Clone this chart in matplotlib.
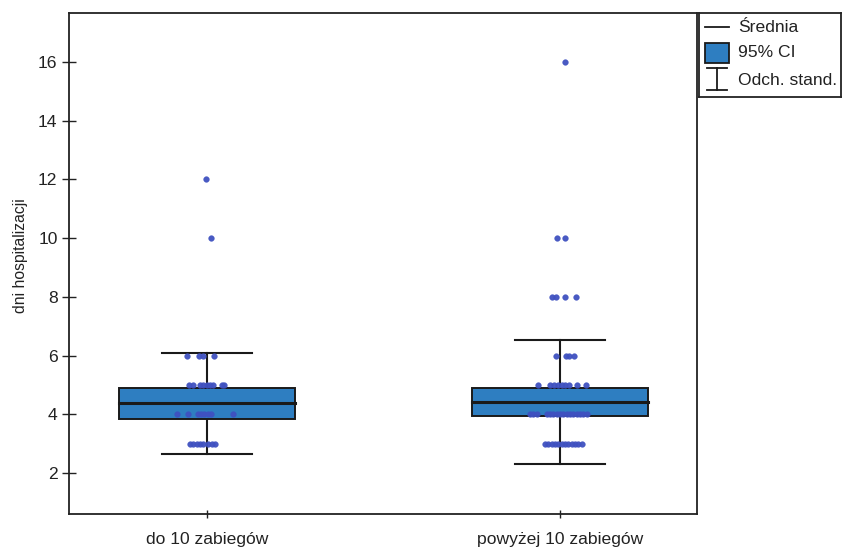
import matplotlib
matplotlib.use("Agg")
import matplotlib.pyplot as plt
from matplotlib.patches import Rectangle

plt.rcParams['font.family'] = ['Liberation Sans', 'DejaVu Sans']

groups = ['do 10 zabiegów', 'powyżej 10 zabiegów']
means = [4.37, 4.42]
ci_low = [3.83, 3.94]
ci_high = [4.89, 4.91]
sds = [1.71, 2.10]

# individual observations (value, horizontal jitter in category units)
g1_values = [12, 10,
             6, 6, 6, 6,
             5, 5, 5, 5, 5, 5, 5, 5, 5,
             4, 4, 4, 4, 4, 4, 4, 4,
             3, 3, 3, 3, 3, 3, 3, 3]
g1_jitter = [-0.004, 0.011,
             -0.057, -0.023, -0.011, 0.020,
             -0.051, -0.040, -0.020, -0.011, 0.0, 0.008, 0.017, 0.042, 0.048,
             -0.085, -0.054, -0.025, -0.017, -0.008, 0.003, 0.011, 0.074,
             -0.048, -0.040, -0.028, -0.020, -0.011, 0.003, 0.014, 0.023]
g2_values = [16, 10, 10,
             8, 8, 8, 8,
             6, 6, 6, 6,
             5, 5, 5, 5, 5, 5, 5, 5, 5,
             4, 4, 4, 4, 4, 4, 4, 4, 4, 4, 4, 4, 4, 4, 4, 4,
             3, 3, 3, 3, 3, 3, 3, 3, 3, 3, 3, 3]
g2_jitter = [0.014, -0.009, 0.014,
             -0.023, -0.011, 0.014, 0.045,
             -0.011, 0.017, 0.025, 0.040,
             -0.062, -0.028, -0.017, -0.006, 0.006, 0.014, 0.025, 0.048, 0.074,
             -0.085, -0.076, -0.065, -0.037, -0.028, -0.020, -0.008, 0.0, 0.008,
             0.020, 0.028, 0.037, 0.048, 0.057, 0.065, 0.076,
             -0.042, -0.034, -0.023, -0.014, -0.006, 0.006, 0.014, 0.023, 0.034,
             0.042, 0.051, 0.062]

points = [(g1_values, g1_jitter), (g2_values, g2_jitter)]
yticks = [2, 4, 6, 8, 10, 12, 14, 16]

BOX_COLOR = '#2E7EC1'
DOT_COLOR = '#3F51C0'
EDGE = '#1a1a1a'
TXT = '#222222'

W, H = 844, 547
fig = plt.figure(figsize=(W / 100, H / 100), dpi=100)
fig.patch.set_facecolor('white')

ax = fig.add_axes([68.7 / W, (H - 514) / H, (697 - 68.7) / W, (514 - 13) / H])

box_w = 0.5
cap_w = 0.255
positions = [1, 2]
for pos, m, lo, hi, sd in zip(positions, means, ci_low, ci_high, sds):
    # standard deviation whisker with caps
    ax.plot([pos, pos], [m - sd, m + sd], color=EDGE, lw=1.5, zorder=1)
    for yv in (m - sd, m + sd):
        ax.plot([pos - cap_w / 2, pos + cap_w / 2], [yv, yv], color=EDGE, lw=1.5, zorder=1)
    # confidence interval box
    ax.add_patch(Rectangle((pos - box_w / 2, lo), box_w, hi - lo,
                           facecolor=BOX_COLOR, edgecolor=EDGE, lw=1.4, zorder=2))
    # mean line
    ax.plot([pos - box_w / 2, pos + box_w / 2], [m, m], color=EDGE, lw=2.2, zorder=3)

for pos, (vals, jit) in zip(positions, points):
    ax.plot([pos + j for j in jit], vals, 'o', ms=4.1, color=DOT_COLOR,
            mec=DOT_COLOR, mew=0.3, alpha=0.95, zorder=4, linestyle='none')

ax.set_xlim(0.608, 2.388)
ax.set_ylim(0.603, 17.67)
ax.set_yticks(yticks)
ax.set_xticks(positions)
ax.set_xticklabels(groups)
ax.tick_params(axis='y', direction='inout', length=10, width=1.0, pad=3, labelsize=12.6,
               colors=TXT)
ax.tick_params(axis='x', direction='inout', length=6, width=1.0, pad=10, labelsize=12.6,
               colors=TXT)
ax.set_ylabel('dni hospitalizacji', fontsize=11.3, color=TXT)
ax.yaxis.set_label_coords(-0.064, 0.515)
for s in ax.spines.values():
    s.set_linewidth(1.3)
    s.set_color(TXT)

# legend panel
lg = fig.add_axes([699 / W, (H - 97) / H, (841 - 699) / W, (97 - 13) / H])
lg.set_xlim(699, 841)
lg.set_ylim(97, 13)
lg.set_xticks([])
lg.set_yticks([])
for s in lg.spines.values():
    s.set_linewidth(1.3)
    s.set_color(TXT)
lg.plot([705, 729], [27, 27], color=EDGE, lw=1.3)
lg.add_patch(Rectangle((705, 43), 24, 20, facecolor=BOX_COLOR, edgecolor=EDGE, lw=1.3))
lg.plot([707, 727], [68, 68], color=EDGE, lw=1.3)
lg.plot([707, 727], [90, 90], color=EDGE, lw=1.3)
lg.plot([717, 717], [68, 90], color=EDGE, lw=1.3)
for yv, txt in zip([28, 53, 81], ['Średnia', '95% CI', 'Odch. stand.']):
    lg.text(738, yv, txt, fontsize=12.6, va='center', ha='left', color=TXT)

fig.savefig('out.png', dpi=100)
